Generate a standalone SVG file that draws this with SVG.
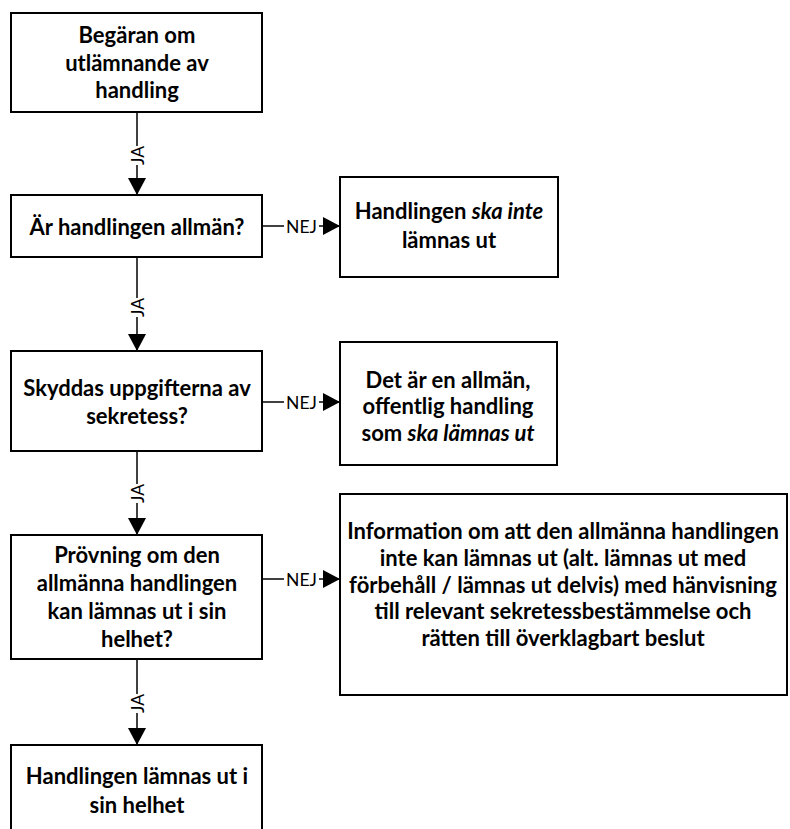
<svg xmlns="http://www.w3.org/2000/svg" width="790" height="829" viewBox="0 0 790 829">
<style>
.box{fill:#fff;stroke:#000;stroke-width:2}
.t{font-family:Lato,"Open Sans","Liberation Sans",sans-serif;font-weight:bold;font-size:22px;fill:#000;text-anchor:middle}
.c{stroke:#000;stroke-width:1.5;fill:none}
.lbl{font-family:Lato,"Liberation Sans",sans-serif;font-size:17.5px;fill:#000;text-anchor:middle;dominant-baseline:central}
.bg{fill:#fff}
</style>
<defs>
<marker id="ah" markerUnits="userSpaceOnUse" markerWidth="17" markerHeight="18" refX="17" refY="9" orient="auto">
<path d="M0,0 L17,9 L0,18 z" fill="#000"/>
</marker>
</defs>
<rect width="790" height="829" fill="#fff"/>
<g id="connectors">
<line class="c" x1="137" y1="112" x2="137" y2="195" marker-end="url(#ah)"/>
<rect class="bg" x="128" y="146" width="18" height="19"/>
<text class="lbl" transform="translate(137,155.5) rotate(-90)">JA</text>
<line class="c" x1="137" y1="257" x2="137" y2="351" marker-end="url(#ah)"/>
<rect class="bg" x="128" y="298" width="18" height="19"/>
<text class="lbl" transform="translate(137,307.5) rotate(-90)">JA</text>
<line class="c" x1="137" y1="451" x2="137" y2="535" marker-end="url(#ah)"/>
<rect class="bg" x="128" y="484" width="18" height="19"/>
<text class="lbl" transform="translate(137,493.5) rotate(-90)">JA</text>
<line class="c" x1="137" y1="659" x2="137" y2="745" marker-end="url(#ah)"/>
<rect class="bg" x="128" y="694" width="18" height="19"/>
<text class="lbl" transform="translate(137,703.5) rotate(-90)">JA</text>
<line class="c" x1="263" y1="226" x2="340" y2="226" marker-end="url(#ah)"/>
<rect class="bg" x="284" y="217" width="35" height="18"/>
<text class="lbl" x="301.5" y="226">NEJ</text>
<line class="c" x1="263" y1="402" x2="340" y2="402" marker-end="url(#ah)"/>
<rect class="bg" x="284" y="393" width="35" height="18"/>
<text class="lbl" x="301.5" y="402">NEJ</text>
<line class="c" x1="263" y1="579" x2="340" y2="579" marker-end="url(#ah)"/>
<rect class="bg" x="284" y="570" width="35" height="18"/>
<text class="lbl" x="301.5" y="579">NEJ</text>
</g>
<g id="begaran">
<rect class="box" x="11" y="13" width="251" height="99"/>
<text class="t" x="137" y="43">Begäran om</text>
<text class="t" x="137" y="71">utlämnande av</text>
<text class="t" x="137" y="98">handling</text>
</g>
<g id="allman">
<rect class="box" x="11" y="195" width="251" height="62"/>
<text class="t" x="137" y="235">Är handlingen allmän?</text>
</g>
<g id="skyddas">
<rect class="box" x="11" y="351" width="251" height="100"/>
<text class="t" x="137" y="396">Skyddas uppgifterna av</text>
<text class="t" x="137" y="424">sekretess?</text>
</g>
<g id="provning">
<rect class="box" x="11" y="535" width="251" height="124"/>
<text class="t" x="137" y="563">Prövning om den</text>
<text class="t" x="137" y="591">allmänna handlingen</text>
<text class="t" x="137" y="619">kan lämnas ut i sin</text>
<text class="t" x="137" y="647">helhet?</text>
</g>
<g id="helhet">
<rect class="box" x="11" y="745" width="251" height="100"/>
<text class="t" x="137" y="784">Handlingen lämnas ut i</text>
<text class="t" x="137" y="813">sin helhet</text>
</g>
<g id="skainte">
<rect class="box" x="340" y="177" width="218" height="100"/>
<text class="t" x="449" y="219">Handlingen <tspan font-style="italic">ska inte</tspan></text>
<text class="t" x="449" y="248">lämnas ut</text>
</g>
<g id="offentlig">
<rect class="box" x="340" y="342" width="217" height="123"/>
<text class="t" x="448" y="388">Det är en allmän,</text>
<text class="t" x="448" y="414">offentlig handling</text>
<text class="t" x="448" y="441">som <tspan font-style="italic">ska lämnas ut</tspan></text>
</g>
<g id="information">
<rect class="box" x="340" y="494" width="447" height="201"/>
<text class="t" x="563" y="539">Information om att den allmänna handlingen</text>
<text class="t" x="563" y="566">inte kan lämnas ut (alt. lämnas ut med</text>
<text class="t" x="563" y="593">förbehåll / lämnas ut delvis) med hänvisning</text>
<text class="t" x="563" y="619">till relevant sekretessbestämmelse och</text>
<text class="t" x="563" y="646">rätten till överklagbart beslut</text>
</g>
</svg>
